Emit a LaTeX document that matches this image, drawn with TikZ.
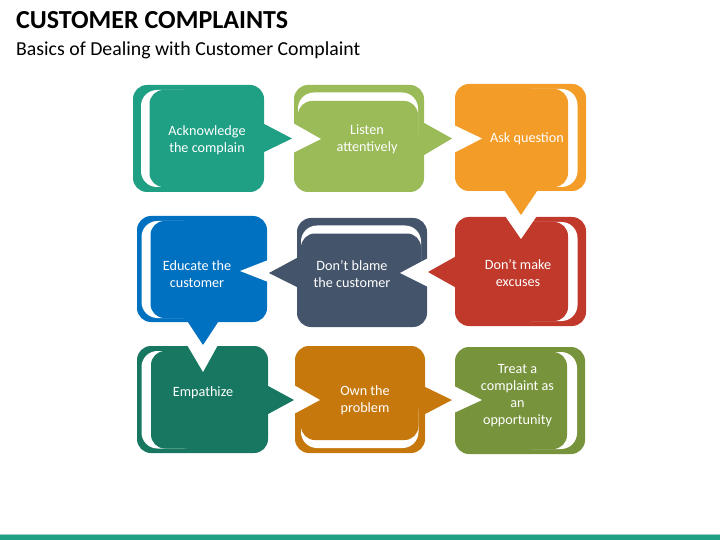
\documentclass[tikz,border=0pt]{standalone}
\usepackage{fontspec}
\setmainfont{Carlito}
\definecolor{cA}{HTML}{1FA084}
\definecolor{cB}{HTML}{9BBB59}
\definecolor{cC}{HTML}{F39C27}
\definecolor{cD}{HTML}{C0392B}
\definecolor{cE}{HTML}{44546A}
\definecolor{cF}{HTML}{0070C0}
\definecolor{cG}{HTML}{177760}
\definecolor{cH}{HTML}{C6780C}
\definecolor{cI}{HTML}{77933C}
\definecolor{band}{HTML}{1FA084}
\definecolor{bandline}{HTML}{9CCFC4}
\tikzset{
  bubble/.style={rectangle, rounded corners=14pt, draw=none, inner sep=0pt},
  whitebr/.style={fill=white, rounded corners=16pt},
  innerbr/.style={rounded corners=14pt},
  notch/.style={fill=white},
  lbl/.style={text=white, align=center, inner sep=0pt, font=\fontsize{14.2}{17}\selectfont},
}
\begin{document}
\begin{tikzpicture}[x=1pt,y=-1pt]
\useasboundingbox (0,0) rectangle (720,540);
% title
\node[anchor=base west, inner sep=0pt, font=\fontsize{26}{30}\selectfont\bfseries] (title) at (16,28.5) {CUSTOMER COMPLAINTS};
\node[anchor=base west, inner sep=0pt, font=\fontsize{19.8}{23}\selectfont] (sub) at (16,55.5) {Basics of Dealing with Customer Complaint};
% bottom band
\fill[band] (0,535) rectangle (720,540);
\draw[bandline, line width=0.6pt] (0,534.3) -- (720,534.3);

% ---- boxes
\node[bubble, fill=cA, minimum width=131, minimum height=107] (b1) at (198.5,138.5) {};
\fill[whitebr] (141,90) rectangle (200,187);
\fill[cA, innerbr] (149.5,90) rectangle (220,187);

\node[bubble, fill=cB, minimum width=130, minimum height=107] (b2) at (359,138.5) {};
\fill[whitebr] (298,92.5) rectangle (418,150);
\fill[cB, innerbr] (298,101) rectangle (418,170);

\node[bubble, fill=cC, minimum width=131, minimum height=107] (b3) at (520.5,137.5) {};
\fill[whitebr] (515,89) rectangle (577.5,187);
\fill[cC, innerbr] (495,89) rectangle (568,187);

\node[bubble, fill=cD, minimum width=131, minimum height=109] (b4) at (520.5,271.5) {};
\fill[whitebr] (515,222) rectangle (577.5,321);
\fill[cD, innerbr] (495,222) rectangle (568,321);

\node[bubble, fill=cE, minimum width=130, minimum height=109] (b5) at (362,272.5) {};
\fill[whitebr] (301,225.5) rectangle (421,290);
\fill[cE, innerbr] (301,233.5) rectangle (421,300);

\node[bubble, fill=cF, minimum width=130, minimum height=106] (b6) at (202,269) {};
\fill[whitebr] (141.5,221) rectangle (200,318);
\fill[cF, innerbr] (150.5,221) rectangle (220,318);

\node[bubble, fill=cG, minimum width=131, minimum height=107] (b7) at (202.5,399.5) {};
\fill[whitebr] (141.5,351) rectangle (200,448.5);
\fill[cG, innerbr] (151,351) rectangle (220,448.5);

\node[bubble, fill=cH, minimum width=130, minimum height=107] (b8) at (360,399.5) {};
\fill[whitebr] (301,395) rectangle (418.5,448);
\fill[cH, innerbr] (301,385) rectangle (418.5,440);

\node[bubble, fill=cI, minimum width=130, minimum height=107] (b9) at (520,400.5) {};
\fill[whitebr] (515,352) rectangle (577,449);
\fill[cI, innerbr] (495,352) rectangle (567,449);

% ---- pointers
\coordinate (p1) at (292,138.5);
\coordinate (p2) at (452,138.5);
\coordinate (p3) at (521,215);
\coordinate (p4) at (428,272);
\coordinate (p5) at (269,273);
\coordinate (p6) at (203,345);
\coordinate (p7) at (294,400);
\coordinate (p8) at (452,400);
\fill[cA] (b1.east |- 0,124) -- (p1) -- (b1.east |- 0,152) -- ++(-4,0) |- cycle;
\fill[cB] (b2.east |- 0,123) -- (p2) -- (b2.east |- 0,155) -- ++(-4,0) |- cycle;
\fill[cC] (b3.south -| 505,0) -- (p3) -- (b3.south -| 537,0) -- ++(0,-4) -| cycle;
\fill[cD] (b4.west |- 0,257) -- (p4) -- (b4.west |- 0,287) -- ++(4,0) |- cycle;
\fill[cE] (b5.west |- 0,258) -- (p5) -- (b5.west |- 0,287) -- ++(4,0) |- cycle;
\fill[cF] (b6.south -| 188,0) -- (p6) -- (b6.south -| 218,0) -- ++(0,-4) -| cycle;
\fill[cG] (b7.east |- 0,386) -- (p7) -- (b7.east |- 0,414) -- ++(-4,0) |- cycle;
\fill[cH] (b8.east |- 0,387) -- (p8) -- (b8.east |- 0,414) -- ++(-4,0) |- cycle;

% ---- notches
\fill[notch] ([xshift=-1pt]b2.west |- 0,123) -- (321,139) -- ([xshift=-1pt]b2.west |- 0,153) -- cycle;
\fill[notch] ([xshift=-1pt]b3.west |- 0,125) -- (482,138.5) -- ([xshift=-1pt]b3.west |- 0,153) -- cycle;
\fill[notch] ([yshift=1pt]b4.north -| 505,0) -- (521,239) -- ([yshift=1pt]b4.north -| 537,0) -- cycle;
\fill[notch] ([xshift=1pt]b5.east |- 0,258) -- (400,273) -- ([xshift=1pt]b5.east |- 0,287) -- cycle;
\fill[notch] ([xshift=1pt]b6.east |- 0,260) -- (240,271) -- ([xshift=1pt]b6.east |- 0,282) -- cycle;
\fill[notch] ([yshift=1pt]b7.north -| 187,0) -- (203,372) -- ([yshift=1pt]b7.north -| 218,0) -- cycle;
\fill[notch] ([xshift=-1pt]b8.west |- 0,385) -- (320,400) -- ([xshift=-1pt]b8.west |- 0,414) -- cycle;
\fill[notch] ([xshift=-1pt]b9.west |- 0,386) -- (482,400) -- ([xshift=-1pt]b9.west |- 0,413) -- cycle;

% ---- labels
\node[lbl] (t1) at (207,140) {Acknowledge\\the complain};
\node[lbl] (t2) at (367,139.5) {Listen\\attentively};
\node[lbl] (t3) at (527,139) {Ask question};
\node[lbl] (t4) at (518,273) {Don’t make\\excuses};
\node[lbl] (t5) at (352,274) {Don’t blame\\the customer};
\node[lbl] (t6) at (197,274) {Educate the\\customer};
\node[lbl] (t7) at (203,393) {Empathize};
\node[lbl] (t8) at (365,400.5) {Own the\\problem};
\node[lbl] (t9) at (517.5,396) {Treat a\\complaint as\\an\\opportunity};
\end{tikzpicture}
\end{document}
